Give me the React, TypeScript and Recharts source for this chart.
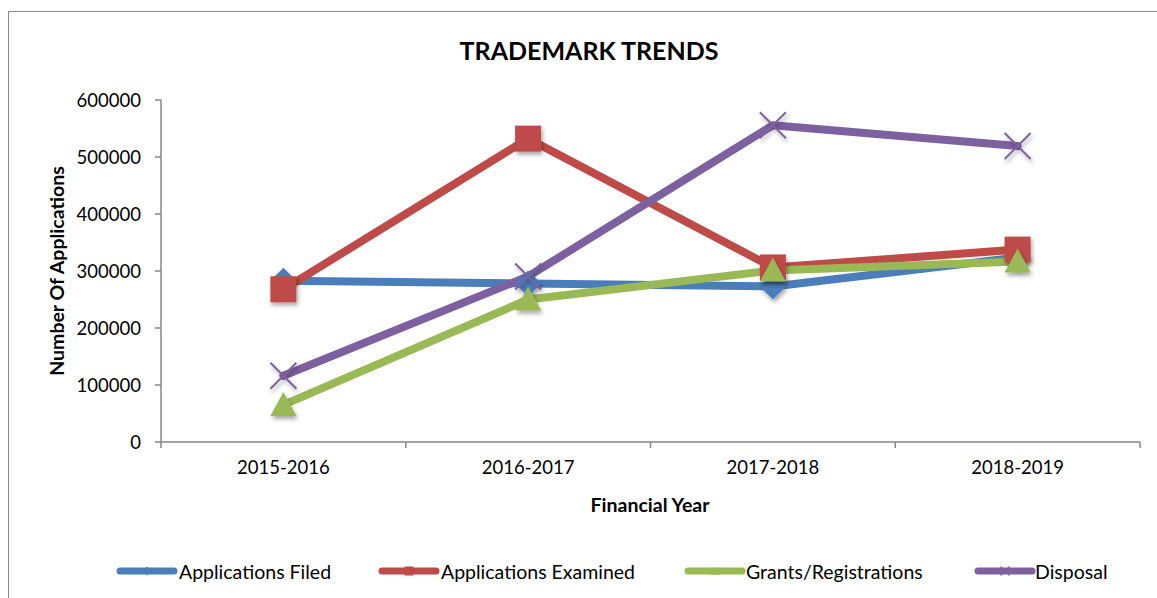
import React from 'react';
import { Line, LineChart, XAxis, YAxis } from 'recharts';

// Trademark trends, Excel-2010 look: boxed chart, thick lines, big markers.

const YEARS = ['2015-2016', '2016-2017', '2017-2018', '2018-2019'];
const FILED = [283060, 278170, 272974, 323798];
const EXAMINED = [267861, 532230, 306259, 337541];
const GRANTS = [65045, 250070, 300913, 316798];
const DISPOSAL = [116167, 290444, 555777, 519185];
const Y_TICKS = [0, 100000, 200000, 300000, 400000, 500000, 600000];

const AXIS = '#868686';
const FONT = 'Lato, "Open Sans", sans-serif';

const SERIES = [
  { key: 'filed', name: 'Applications Filed', color: '#4A7EBB', marker: 'diamond' },
  { key: 'examined', name: 'Applications Examined', color: '#BE4B48', marker: 'square' },
  { key: 'grants', name: 'Grants/Registrations', color: '#98B954', marker: 'triangle' },
  { key: 'disposal', name: 'Disposal', color: '#7D60A0', marker: 'x' },
];

const data = YEARS.map((year, i) => ({
  pos: i + 0.5,
  year,
  filed: FILED[i],
  examined: EXAMINED[i],
  grants: GRANTS[i],
  disposal: DISPOSAL[i],
}));

// category centres sit at i + 0.5, boundaries at integers (Excel style)
const X_TICKS = [0, 0.5, 1, 1.5, 2, 2.5, 3, 3.5, 4];

function Marker({ cx, cy, kind, color, s = 13, shadow = true }: any) {
  const f = shadow ? 'url(#mshadow)' : undefined;
  if (kind === 'diamond') {
    return (
      <path
        d={`M${cx},${cy - s} L${cx + s},${cy} L${cx},${cy + s} L${cx - s},${cy} Z`}
        fill={color}
        filter={f}
      />
    );
  }
  if (kind === 'square') {
    return <rect x={cx - s} y={cy - s} width={s * 2} height={s * 2} fill={color} filter={f} />;
  }
  if (kind === 'triangle') {
    return (
      <path
        d={`M${cx},${cy - s} L${cx + s},${cy + s * 0.85} L${cx - s},${cy + s * 0.85} Z`}
        fill={color}
        filter={f}
      />
    );
  }
  return (
    <g stroke={color} strokeWidth={s > 6 ? 2 : 1.2} filter={f}>
      <line x1={cx - s} y1={cy - s} x2={cx + s} y2={cy + s} />
      <line x1={cx - s} y1={cy + s} x2={cx + s} y2={cy - s} />
    </g>
  );
}

function XTick({ x, y, payload }: any) {
  const v = payload.value;
  if (Number.isInteger(v)) {
    return <line x1={x} x2={x} y1={y} y2={y + 6} stroke={AXIS} strokeWidth={1.5} />;
  }
  return (
    <text x={x} y={y + 32} textAnchor="middle" fill="#000" fontSize={18.5} fontFamily={FONT}>
      {YEARS[Math.floor(v)]}
    </text>
  );
}

const LEGEND_POS = [
  { line: 118, text: 179 },
  { line: 380, text: 441 },
  { line: 686, text: 746 },
  { line: 976, text: 1035 },
];

export default function App() {
  return (
    <div style={{ position: 'absolute', left: 0, top: 0, width: 1157, height: 598, overflow: 'hidden', background: '#fff', fontFamily: FONT }}>
      <svg width={0} height={0} style={{ position: 'absolute' }}>
        <defs>
          <filter id="mshadow" x="-50%" y="-50%" width="200%" height="200%">
            <feDropShadow dx={1.5} dy={3} stdDeviation={2} floodColor="#000" floodOpacity={0.35} />
          </filter>
        </defs>
      </svg>
      <div
        style={{
          position: 'absolute',
          left: 8,
          top: 11,
          width: 1160,
          height: 600,
          borderTop: '1.5px solid #8a8a8a',
          borderLeft: '1.5px solid #8a8a8a',
        }}
      />
      <div
        style={{
          position: 'absolute',
          left: 589,
          top: 50,
          transform: 'translate(-50%, -50%)',
          whiteSpace: 'nowrap',
          fontWeight: 700,
          fontSize: 25,
          color: '#000',
        }}
      >
        TRADEMARK TRENDS
      </div>
      <div
        style={{
          position: 'absolute',
          left: 56,
          top: 271,
          transform: 'translate(-50%, -50%) rotate(-90deg)',
          whiteSpace: 'nowrap',
          fontWeight: 700,
          fontSize: 19.5,
          color: '#000',
        }}
      >
        Number Of Applications
      </div>
      <div
        style={{
          position: 'absolute',
          left: 650,
          top: 504,
          transform: 'translate(-50%, -50%)',
          whiteSpace: 'nowrap',
          fontWeight: 700,
          fontSize: 19.5,
          color: '#000',
        }}
      >
        Financial Year
      </div>

      <div style={{ position: 'absolute', left: 0, top: 0 }}>
        <LineChart width={1157} height={598} data={data} margin={{ top: 100, right: 17, left: 101, bottom: 126 }}>
          <XAxis
            dataKey="pos"
            type="number"
            domain={[0, 4]}
            ticks={X_TICKS}
            interval={0}
            tickLine={false}
            tickSize={0}
            tickMargin={0}
            height={30}
            axisLine={{ stroke: AXIS, strokeWidth: 1.5 }}
            tick={<XTick />}
          />
          <YAxis
            width={60}
            domain={[0, 600000]}
            ticks={Y_TICKS}
            interval={0}
            tickSize={6}
            tickMargin={14}
            axisLine={{ stroke: AXIS, strokeWidth: 1.5 }}
            tickLine={{ stroke: AXIS, strokeWidth: 1.5 }}
            tick={{ fill: '#000', fontSize: 18.5, fontFamily: FONT }}
          />
          {SERIES.map((s) => (
            <Line
              key={s.key}
              dataKey={s.key}
              name={s.name}
              stroke={s.color}
              strokeWidth={8}
              strokeLinejoin="round"
              strokeLinecap="round"
              isAnimationActive={false}
              dot={(p: any) => <Marker key={`${s.key}-${p.index}`} cx={p.cx} cy={p.cy} kind={s.marker} color={s.color} />}
              activeDot={false}
            />
          ))}
        </LineChart>
      </div>

      {SERIES.map((s, i) => (
        <div key={s.key}>
          <svg style={{ position: 'absolute', left: LEGEND_POS[i].line - 2, top: 561 }} width={64} height={20}>
            <line x1={4} x2={58} y1={10} y2={10} stroke={s.color} strokeWidth={7} strokeLinecap="round" />
            <Marker cx={31} cy={10} kind={s.marker} color={s.color} s={4.5} shadow={false} />
          </svg>
          <div
            style={{
              position: 'absolute',
              left: LEGEND_POS[i].text,
              top: 571,
              transform: 'translateY(-50%)',
              fontSize: 19.5,
              color: '#000',
              whiteSpace: 'nowrap',
            }}
          >
            {s.name}
          </div>
        </div>
      ))}
    </div>
  );
}
